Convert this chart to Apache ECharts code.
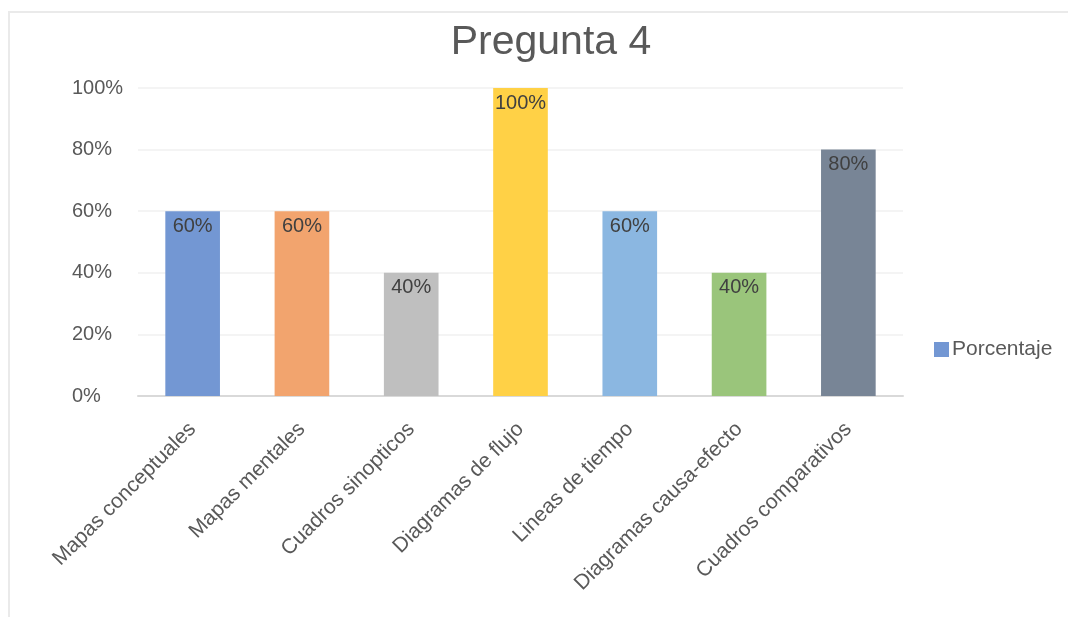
<!DOCTYPE html>
<html>
<head>
<meta charset="utf-8">
<script src="https://cdn.jsdelivr.net/npm/echarts@6/dist/echarts.min.js"></script>
<style>
html,body{margin:0;padding:0;background:#fff;}
#c{width:1068px;height:617px;}
</style>
</head>
<body>
<div id="c"></div>
<script>
var categories = ['Mapas conceptuales','Mapas mentales','Cuadros sinopticos','Diagramas de flujo','Lineas de tiempo','Diagramas causa-efecto','Cuadros comparativos'];
var values = [60, 60, 40, 100, 60, 40, 80];
var barColors = ['#7397D3','#F2A46E','#BFBFBF','#FFD146','#8BB7E1','#9AC57B','#788596'];
var yTicks = [0, 20, 40, 60, 80, 100];
var seriesName = 'Porcentaje';
var titleText = 'Pregunta 4';

var chart = echarts.init(document.getElementById('c'), null, {renderer:'canvas'});
var font = 'Liberation Sans, Arial, sans-serif';
chart.setOption({
  backgroundColor:'#ffffff',
  animation:false,
  graphic:[{
    type:'rect', silent:true, z:-10,
    shape:{x:9, y:12, width:1200, height:700},
    style:{fill:'none', stroke:'#EAEAEA', lineWidth:2}
  }],
  title:{
    text:titleText, left:546, top:17, textAlign:'center',
    textStyle:{fontFamily:font, fontSize:41, fontWeight:'normal', color:'#595959'}
  },
  legend:{
    data:[seriesName], left:929, top:334, orient:'vertical',
    itemWidth:15, itemHeight:15, itemGap:6, icon:'rect',
    textStyle:{fontFamily:font, fontSize:21, color:'#595959', padding:[0,0,0,-2]},
    itemStyle:{color:barColors[0]}
  },
  grid:{left:138, right:165, top:88, bottom:221, containLabel:false},
  xAxis:{
    type:'category', data:categories,
    axisLine:{show:true, lineStyle:{color:'#D9D9D9', width:2}},
    axisTick:{show:false},
    axisLabel:{rotate:45, margin:30, interval:0, fontFamily:font, fontSize:21, color:'#595959'}
  },
  yAxis:{
    type:'value', min:yTicks[0], max:yTicks[yTicks.length-1], interval:20,
    axisLine:{show:false}, axisTick:{show:false},
    splitLine:{lineStyle:{color:'#F0F0F0', width:1.5}},
    axisLabel:{margin:66, align:'left', fontFamily:font, fontSize:20, color:'#595959', formatter:'{value}%'}
  },
  series:[{
    name:seriesName, type:'bar', barWidth:'50%',
    data:values.map(function(v,i){return {value:v, itemStyle:{color:barColors[i]}};}),
    label:{show:true, position:'insideTop', distance:5, fontFamily:font, fontSize:20, color:'#404040', formatter:'{c}%'}
  }]
});
</script>
</body>
</html>
